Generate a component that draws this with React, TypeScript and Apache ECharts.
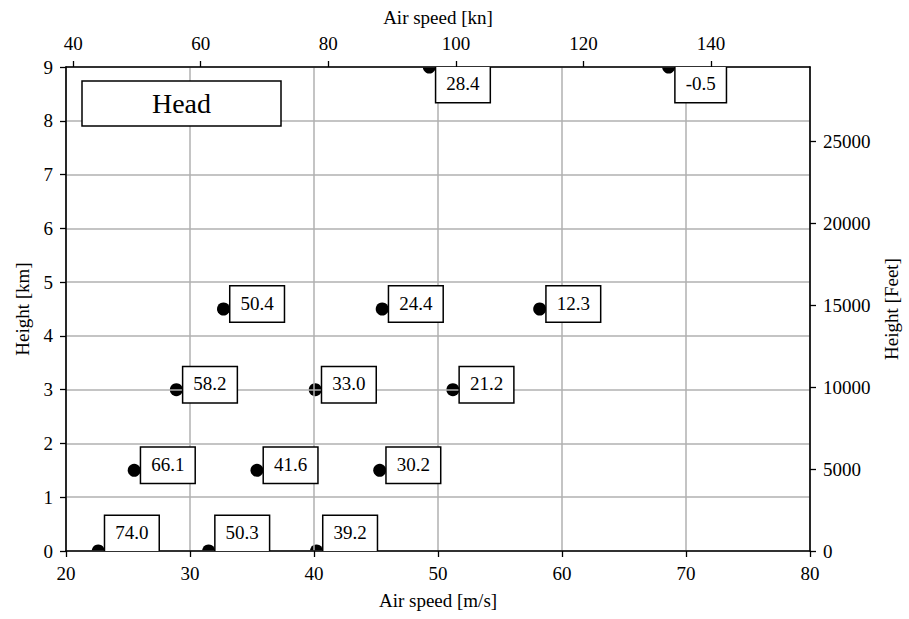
import React, { useEffect, useRef } from "react";
import * as echarts from "echarts";

const FONT = '"Liberation Serif", "Times New Roman", serif';
const KN_PER_MS = 1.943844;
const FT_PER_KM = 1000 / 0.3048;

const heights = [0, 0, 0, 1.5, 1.5, 1.5, 3, 3, 3, 4.5, 4.5, 4.5, 9, 9];
const speeds = [22.6, 31.5, 40.2, 25.5, 35.4, 45.3, 28.9, 40.1, 51.2, 32.7, 45.5, 58.2, 49.3, 68.6];
const windLabels = ["74.0", "50.3", "39.2", "66.1", "41.6", "30.2", "58.2", "33.0", "21.2", "50.4", "24.4", "12.3", "28.4", "-0.5"];

const knotTicks = [40, 60, 80, 100, 120, 140];
const feetTicks = [0, 5000, 10000, 15000, 20000, 25000];

const labelStyle = { color: "#000", fontFamily: FONT, fontSize: 19 };
const axisLineStyle = { show: true, onZero: false, lineStyle: { color: "#000", width: 1.6 } };
const axisTickStyle = { show: true, inside: false, length: 6, lineStyle: { color: "#000", width: 1.3 } };
const gridLineStyle = { show: true, lineStyle: { color: "#b0b0b0", width: 1.5 } };

export default function App() {
  const ref = useRef<HTMLDivElement>(null);
  useEffect(() => {
    if (!ref.current) return;
    const chart = echarts.init(ref.current, undefined, { renderer: "svg" });
    const pts = speeds.map((s, i) => [s, heights[i]]);
    chart.setOption({
      animation: false,
      backgroundColor: "#fff",
      textStyle: { fontFamily: FONT },
      grid: { left: 66, right: 98, top: 67, bottom: 68, containLabel: false },
      xAxis: [
        {
          type: "value", position: "bottom", min: 20, max: 80, interval: 10,
          name: "Air speed [m/s]", nameLocation: "middle", nameGap: 40,
          nameTextStyle: labelStyle,
          axisLine: axisLineStyle, axisTick: axisTickStyle,
          axisLabel: { ...labelStyle, margin: 13 },
          splitLine: gridLineStyle,
        },
        {
          type: "value", position: "top", min: 20 * KN_PER_MS, max: 80 * KN_PER_MS,
          name: "Air speed [kn]", nameLocation: "middle", nameGap: 40,
          nameTextStyle: labelStyle,
          axisLine: axisLineStyle,
          axisTick: { ...axisTickStyle, customValues: knotTicks },
          axisLabel: { ...labelStyle, margin: 14, customValues: knotTicks, formatter: (v: number) => String(v) },
          splitLine: { show: false },
        },
      ],
      yAxis: [
        {
          type: "value", position: "left", min: 0, max: 9, interval: 1,
          name: "Height [km]", nameLocation: "middle", nameGap: 34, nameRotate: 90,
          nameTextStyle: labelStyle,
          axisLine: axisLineStyle, axisTick: axisTickStyle,
          axisLabel: { ...labelStyle, margin: 13 },
          splitLine: gridLineStyle,
        },
        {
          type: "value", position: "right", min: 0, max: 9 * FT_PER_KM,
          name: "Height [Feet]", nameLocation: "middle", nameGap: 72, nameRotate: 90,
          nameTextStyle: labelStyle,
          axisLine: axisLineStyle,
          axisTick: { ...axisTickStyle, customValues: feetTicks },
          axisLabel: { ...labelStyle, margin: 13, customValues: feetTicks, formatter: (v: number) => String(v) },
          splitLine: { show: false },
        },
      ],
      series: [
        {
          type: "custom", xAxisIndex: 0, yAxisIndex: 0, clip: true, z: -1,
          data: pts,
          renderItem: (params: any, api: any) => {
            const p = api.coord([api.value(0), api.value(1)]);
            return { type: "circle", shape: { cx: p[0], cy: p[1], r: 6.5 }, style: { fill: "#000" } };
          },
        },
        {
          type: "custom", xAxisIndex: 0, yAxisIndex: 0, clip: true, z: 5,
          data: pts,
          renderItem: (params: any, api: any) => {
            const p = api.coord([api.value(0), api.value(1)]);
            const cs = params.coordSys;
            const h = 35;
            let top = p[1] - 5 - h / 2;
            top = Math.max(cs.y, Math.min(cs.y + cs.height - h, top));
            return {
              type: "text", x: p[0] + 7, y: top,
              style: {
                text: windLabels[params.dataIndex],
                font: `19px ${FONT}`, lineHeight: 21, fill: "#000",
                backgroundColor: "#fff", borderColor: "#000", borderWidth: 1.5,
                padding: [6, 10, 8, 10], align: "left", verticalAlign: "top",
              },
            };
          },
        },
      ],
      graphic: [
        { type: "rect", shape: { x: 82, y: 81, width: 199, height: 45 }, style: { fill: "#fff", stroke: "#000", lineWidth: 1.5 }, z: 10 },
        { type: "text", x: 181.5, y: 103.5, style: { text: "Head", font: `28px ${FONT}`, fill: "#000", align: "center", verticalAlign: "middle" }, z: 11 },
      ],
    });
    return () => chart.dispose();
  }, []);
  return <div ref={ref} style={{ position: "absolute", left: 0, top: 0, width: 909, height: 619, background: "#fff" }} />;
}
